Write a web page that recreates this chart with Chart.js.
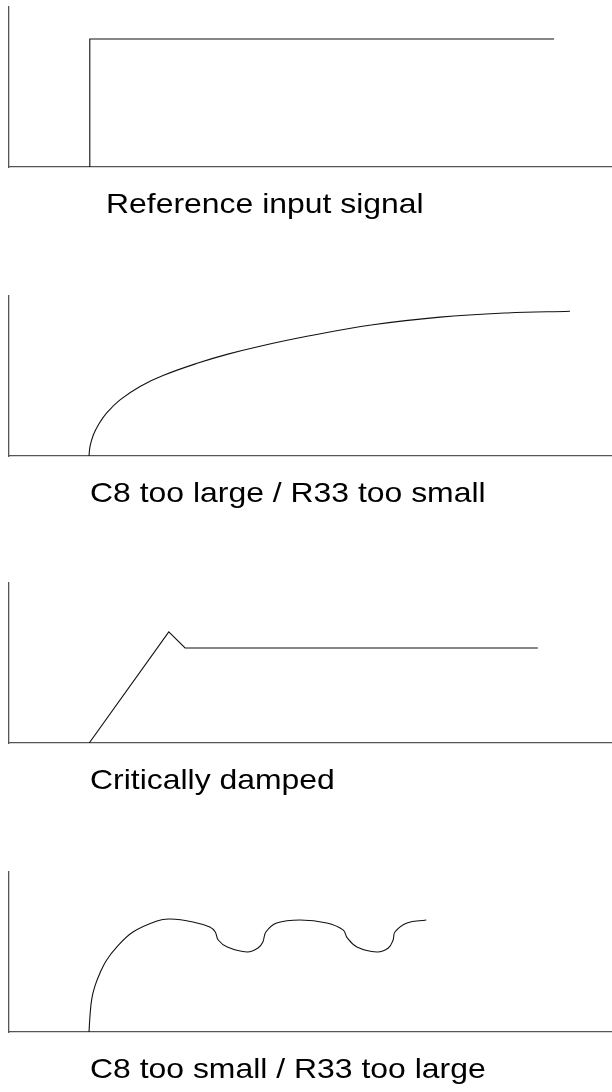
<!DOCTYPE html>
<html lang="en">
<head>
  <meta charset="UTF-8">
  <title>Step response</title>
  <style>
    body{
      margin: 0;
      background: #fff;
    }
    .wrap{
      position: relative;
      width: 612px;
      height: 1092px;
      overflow: hidden;
    }
    canvas{
      position: absolute;
      left: 0;
    }
  </style>
</head>
<body>
  <div class="wrap">
    <canvas id="c1" width="612" height="227" style="top:0px"></canvas>
    <canvas id="c2" width="612" height="227" style="top:289px"></canvas>
    <canvas id="c3" width="612" height="227" style="top:576px"></canvas>
    <canvas id="c4" width="612" height="227" style="top:865px"></canvas>
  </div>

  <script src="https://cdn.jsdelivr.net/npm/chart.js"></script>
  <script>
  // time axis 0..100, level axis 0..10
  const captions = [
    'Reference input signal',
    'C8 too large / R33 too small',
    'Critically damped',
    'C8 too small / R33 too large'
  ]

  const stepTime  = [13.4, 13.4, 90.4]
  const stepLevel = [0, 8, 8]

  const slowTime  = [13.27, 13.43, 13.98, 14.81, 16.2, 18.41, 21.73, 25.54, 31.34, 36.15, 41.63, 49.42, 60.37, 71.48, 82.59, 93.03]
  const slowLevel = [0, 0.58, 1.31, 1.94, 2.69, 3.51, 4.35, 5.03, 5.81, 6.35, 6.86, 7.48, 8.2, 8.68, 8.94, 9.05]

  const dampedTime  = [13.3, 26.5, 29.2, 87.7]
  const dampedLevel = [0, 6.94, 5.94, 5.94]

  const ringTime  = [13.27, 13.43, 13.72, 14.26, 15.09, 16.2, 17.86, 20.56, 24.54, 26.7, 30.5, 33.3, 34.2, 34.7, 36.2, 39.5,
                     41.3, 42.1, 42.6, 44.4, 48.3, 52.7, 55.4, 56.1, 57.7, 61.0, 62.9, 63.7, 64.0, 66.0, 69.2]
  const ringLevel = [0, 1.0, 2.06, 2.88, 3.69, 4.5, 5.31, 6.25, 6.94, 7.06, 6.88, 6.56, 6.25, 5.75, 5.31, 5.0,
                     5.25, 5.63, 6.25, 6.81, 7.0, 6.81, 6.38, 5.88, 5.31, 5.0, 5.25, 5.75, 6.25, 6.81, 7.0]

  // caption under each plot, drawn a little wider than the plain font
  const captionPlugin = {
    id: 'caption',
    afterDraw: (chart, args, opts) => {
      const ctx = chart.ctx
      ctx.save()
      ctx.fillStyle = '#000'
      ctx.font = '28px "Liberation Sans", Arial, sans-serif'
      ctx.textBaseline = 'alphabetic'
      ctx.translate(opts.left, chart.chartArea.bottom + 46)
      ctx.scale(1.14, 1)
      ctx.fillText(opts.text, 0, 0)
      ctx.restore()
    }
  }

  function makeChart(id, xs, ys, smooth, text, left) {
    const points = xs.map((x, i) => ({x: x, y: ys[i]}))
    return new Chart(document.getElementById(id), {
      type: 'line',
      data: {
        datasets: [{
          data: points,
          borderColor: '#111',
          borderWidth: 1.1,
          pointRadius: 0,
          tension: smooth ? 0.4 : 0,
          fill: false
        }]
      },
      options: {
        responsive: false,
        animation: false,
        layout: {padding: {left: 9, top: 7, right: 0, bottom: 60}},
        plugins: {
          legend: {display: false},
          tooltip: {enabled: false},
          caption: {text: text, left: left}
        },
        scales: {
          x: {
            type: 'linear',
            min: 0,
            max: 100,
            ticks: {display: false},
            grid: {display: false, drawTicks: false},
            border: {display: true, color: '#555', width: 1.3}
          },
          y: {
            min: 0,
            max: 10,
            ticks: {display: false},
            grid: {display: false, drawTicks: false},
            border: {display: true, color: '#555', width: 1.3}
          }
        }
      },
      plugins: [captionPlugin]
    })
  }

  makeChart('c1', stepTime, stepLevel, false, captions[0], 106)
  makeChart('c2', slowTime, slowLevel, true, captions[1], 90)
  makeChart('c3', dampedTime, dampedLevel, false, captions[2], 90)
  makeChart('c4', ringTime, ringLevel, true, captions[3], 90)
  </script>
</body>
</html>
